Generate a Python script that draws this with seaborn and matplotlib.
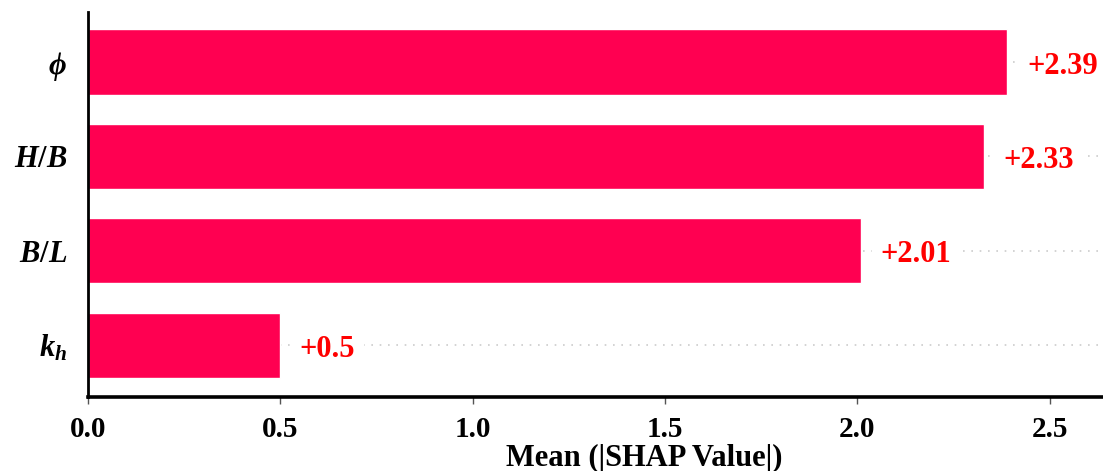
import matplotlib
matplotlib.use("Agg")
import matplotlib.pyplot as plt
import seaborn as sns
import pandas as pd

# Mean absolute SHAP value per input feature
features = [r"$\phi$", r"$H/B$", r"$B/L$", r"$k_h$"]
mean_shap = [2.39, 2.33, 2.01, 0.5]
value_labels = ["+2.39", "+2.33", "+2.01", "+0.5"]
x_ticks = [0.0, 0.5, 1.0, 1.5, 2.0, 2.5]

sns.set_style("white")
plt.rcParams["font.family"] = ["Liberation Serif", "DejaVu Serif"]
plt.rcParams["font.weight"] = "bold"
plt.rcParams["text.color"] = "black"
plt.rcParams["axes.labelcolor"] = "black"
plt.rcParams["xtick.color"] = "black"
plt.rcParams["ytick.color"] = "black"
plt.rcParams["mathtext.fontset"] = "custom"
plt.rcParams["mathtext.it"] = "Liberation Serif:italic:bold"
plt.rcParams["mathtext.rm"] = "Liberation Serif:bold"
plt.rcParams["mathtext.bf"] = "Liberation Serif:italic:bold"

df = pd.DataFrame({"feature": features, "value": mean_shap})

fig = plt.figure(figsize=(11.03, 4.71), dpi=100)
# the plotting area runs past the right edge of the canvas
ax = fig.add_axes([0.0798, 0.157, 1.008, 0.8175])

sns.barplot(data=df, x="value", y="feature", orient="h", color="#FF0051",
            saturation=1, width=0.69, ax=ax, zorder=2)

# dotted guide line for every row
for i in range(len(features)):
    ax.axhline(i, color="#cccccc", lw=1.2, dashes=(1, 4), zorder=0)

for i, (v, lab) in enumerate(zip(mean_shap, value_labels)):
    ax.annotate(lab, xy=(v, i), xytext=(14, -3), textcoords="offset points",
                ha="left", va="center", color="#FF0000", fontsize=22,
                fontweight="bold",
                bbox=dict(boxstyle="square,pad=0.3", fc="white", ec="none"),
                zorder=3)

ax.set_xlim(0, 2.89)
ax.set_ylim(3.55, -0.53)
ax.set_xticks(x_ticks)
ax.set_xticklabels([f"{t:.1f}" for t in x_ticks], fontsize=21, fontweight="bold")
ax.set_yticklabels(features, fontsize=22)
ax.set_xlabel("Mean (|SHAP Value|)", fontsize=22, fontweight="bold", labelpad=0)
ax.set_ylabel("")

for s in ["top", "right"]:
    ax.spines[s].set_visible(False)
ax.spines["left"].set_color("black")
ax.spines["left"].set_linewidth(2)
ax.spines["bottom"].set_color("black")
ax.spines["bottom"].set_linewidth(2.6)

ax.tick_params(axis="x", direction="out", length=5, width=1, pad=9, bottom=True,
               color="#555555")
ax.tick_params(axis="y", length=0, pad=15)

fig.savefig("out.png", dpi=100)
